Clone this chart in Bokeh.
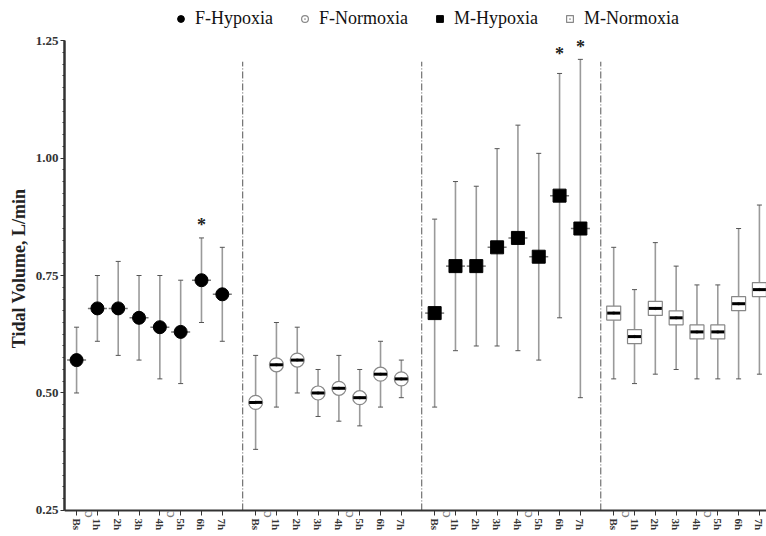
import math
from bokeh.plotting import figure
from bokeh.models import (ColumnDataSource, Whisker, TeeHead, FixedTicker, Legend, LegendItem,
                          LabelSet, NumeralTickFormatter)
from bokeh.core.properties import value
from bokeh.embed import file_html
from bokeh.resources import INLINE

# ---------------- data ----------------
groups = ["F-Hypoxia", "F-Normoxia", "M-Hypoxia", "M-Normoxia"]
time_labels = ["Bs", "1h", "2h", "3h", "4h", "5h", "6h", "7h"]

f_hyp_mean = [0.57, 0.68, 0.68, 0.66, 0.64, 0.63, 0.74, 0.71]
f_hyp_low = [0.50, 0.61, 0.58, 0.57, 0.53, 0.52, 0.65, 0.61]
f_hyp_high = [0.64, 0.75, 0.78, 0.75, 0.75, 0.74, 0.83, 0.81]

f_nor_mean = [0.48, 0.56, 0.57, 0.50, 0.51, 0.49, 0.54, 0.53]
f_nor_low = [0.38, 0.47, 0.50, 0.45, 0.44, 0.43, 0.47, 0.49]
f_nor_high = [0.58, 0.65, 0.64, 0.55, 0.58, 0.55, 0.61, 0.57]

m_hyp_mean = [0.67, 0.77, 0.77, 0.81, 0.83, 0.79, 0.92, 0.85]
m_hyp_low = [0.47, 0.59, 0.60, 0.60, 0.59, 0.57, 0.66, 0.49]
m_hyp_high = [0.87, 0.95, 0.94, 1.02, 1.07, 1.01, 1.18, 1.21]

m_nor_mean = [0.67, 0.62, 0.68, 0.66, 0.63, 0.63, 0.69, 0.72]
m_nor_low = [0.53, 0.52, 0.54, 0.55, 0.53, 0.53, 0.53, 0.54]
m_nor_high = [0.81, 0.72, 0.82, 0.77, 0.73, 0.73, 0.85, 0.90]

# significance stars: (group index, time index, height)
star_group = [0, 2, 2]
star_time = [6, 6, 7]
star_y = [0.868, 1.232, 1.248]

# small "c" marks just below the axis (between time points, in every group)
c_after = [0.5, 4.45]

y_ticks = [0.25, 0.50, 0.75, 1.00, 1.25]
y_minor = [round(0.25 + 0.025 * k, 3) for k in range(41)]
Y_LO, Y_HI = 0.25, 1.25

# ---------------- layout helpers ----------------
STEP = 5
GROUP = 43

def xpos(g, i):
    return g * GROUP + i * STEP

means = [f_hyp_mean, f_nor_mean, m_hyp_mean, m_nor_mean]
lows = [f_hyp_low, f_nor_low, m_hyp_low, m_nor_low]
highs = [f_hyp_high, f_nor_high, m_hyp_high, m_nor_high]

FONT = "Liberation Serif"
PX = 469.0  # pixels per unit of y

p = figure(width=766, height=536, x_range=(-2.9, 165.7),
           y_range=(Y_LO - 26 / PX, Y_HI + 40 / PX),
           output_backend="svg", toolbar_location=None,
           min_border_left=64, min_border_right=0, min_border_bottom=0, min_border_top=0)
p.outline_line_color = None
p.xgrid.visible = False
p.ygrid.visible = False

# group separators
sep_x = [g * GROUP - 3.1 for g in range(1, 4)]
p.segment(x0=sep_x, x1=sep_x, y0=[Y_LO] * 3, y1=[1.205] * 3,
          line_color="#555555", line_width=1, line_dash="7 2 1 2")

styles = [
    dict(marker="circle", fill="black", line="black", dash_color="#777777", dash_w=1.5, dash_size=19),
    dict(marker="circle_dot", fill="white", line="#888888", dash_color="black", dash_w=3, dash_size=13),
    dict(marker="square", fill="black", line="black", dash_color="#777777", dash_w=1.5, dash_size=19),
    dict(marker="square_dot", fill="white", line="#888888", dash_color="black", dash_w=3, dash_size=13),
]

legend_items = []
for g in range(4):
    xs = [xpos(g, i) for i in range(len(time_labels))]
    src = ColumnDataSource(dict(x=xs, y=means[g], lo=lows[g], hi=highs[g]))
    w = Whisker(base="x", upper="hi", lower="lo", source=src,
                line_color="#9a9a9a", line_width=1.6,
                upper_head=TeeHead(size=5, line_color="#555555", line_width=1),
                lower_head=TeeHead(size=5, line_color="#555555", line_width=1))
    p.add_layout(w)
    st = styles[g]
    if st["fill"] == "black":
        p.scatter("x", "y", source=src, marker="dash", size=st["dash_size"],
                  line_color=st["dash_color"], line_width=st["dash_w"])
        r = p.scatter("x", "y", source=src, marker=st["marker"], size=13,
                      fill_color=st["fill"], line_color=st["line"])
    else:
        r = p.scatter("x", "y", source=src, marker=st["marker"], size=14,
                      fill_color=st["fill"], line_color=st["line"], line_width=1.2)
        p.scatter("x", "y", source=src, marker="dash", size=st["dash_size"],
                  line_color=st["dash_color"], line_width=st["dash_w"])
    legend_items.append(LegendItem(label=groups[g], renderers=[r]))

# stars
star_src = ColumnDataSource(dict(x=[xpos(g, t) for g, t in zip(star_group, star_time)],
                                 y=star_y, t=["*"] * len(star_y)))
p.add_layout(LabelSet(x="x", y="y", text="t", source=star_src, text_align="center",
                      text_baseline="middle", text_font=FONT, text_font_style="bold",
                      text_font_size="18px", text_color="#222222", y_offset=-5))

# small c marks under axis
c_x = [xpos(g, c) for g in range(4) for c in c_after]
p.text(x=c_x, y=[Y_LO - 4 / PX] * len(c_x), text=["c"] * len(c_x),
       text_align="center", text_baseline="middle", angle=math.pi / 2,
       text_font=value(FONT), text_font_size="15px", text_color="#777777")

legend = Legend(items=legend_items, orientation="horizontal", location=(108, 507),
                label_text_font=FONT, label_text_font_size="18px", label_text_color="#111111",
                glyph_width=17, glyph_height=17, label_standoff=6, spacing=23,
                border_line_color=None, background_fill_alpha=0, padding=0, margin=0)
p.add_layout(legend)

# axes
tick_x = [xpos(g, i) for g in range(4) for i in range(len(time_labels))]
p.xaxis.fixed_location = Y_LO
p.xaxis.ticker = FixedTicker(ticks=tick_x, minor_ticks=[])
p.xaxis.major_label_overrides = {xpos(g, i): lab for g in range(4) for i, lab in enumerate(time_labels)}
p.xaxis.major_label_orientation = "vertical"
p.xaxis.major_label_text_font = FONT
p.xaxis.major_label_text_font_style = "bold"
p.xaxis.major_label_text_font_size = "11px"
p.xaxis.major_label_text_color = "#333333"
p.xaxis.major_label_standoff = 3
p.xaxis.axis_line_color = "#333333"
p.xaxis.axis_line_width = 2
p.xaxis.major_tick_line_color = "#333333"
p.xaxis.major_tick_out = 5
p.xaxis.major_tick_in = 0

p.yaxis.bounds = (Y_LO, Y_HI)
p.yaxis.ticker = FixedTicker(ticks=y_ticks, minor_ticks=y_minor)
p.yaxis.formatter = NumeralTickFormatter(format="0.00")
p.yaxis.axis_label = "Tidal Volume, L/min"
p.yaxis.axis_label_text_font = FONT
p.yaxis.axis_label_text_font_style = "bold"
p.yaxis.axis_label_text_font_size = "18px"
p.yaxis.axis_label_text_color = "#222222"
p.yaxis.axis_label_standoff = 4
p.yaxis.major_label_text_font = FONT
p.yaxis.major_label_text_font_style = "bold"
p.yaxis.major_label_text_font_size = "13px"
p.yaxis.major_label_text_color = "#333333"
p.yaxis.major_label_standoff = 2
p.yaxis.axis_line_color = "#333333"
p.yaxis.axis_line_width = 2.5
p.yaxis.major_tick_line_color = "#333333"
p.yaxis.major_tick_out = 4
p.yaxis.major_tick_in = 0
p.yaxis.minor_tick_line_color = "#333333"
p.yaxis.minor_tick_out = 2
p.yaxis.minor_tick_in = 0

open("out.html", "w").write(file_html(p, INLINE))
